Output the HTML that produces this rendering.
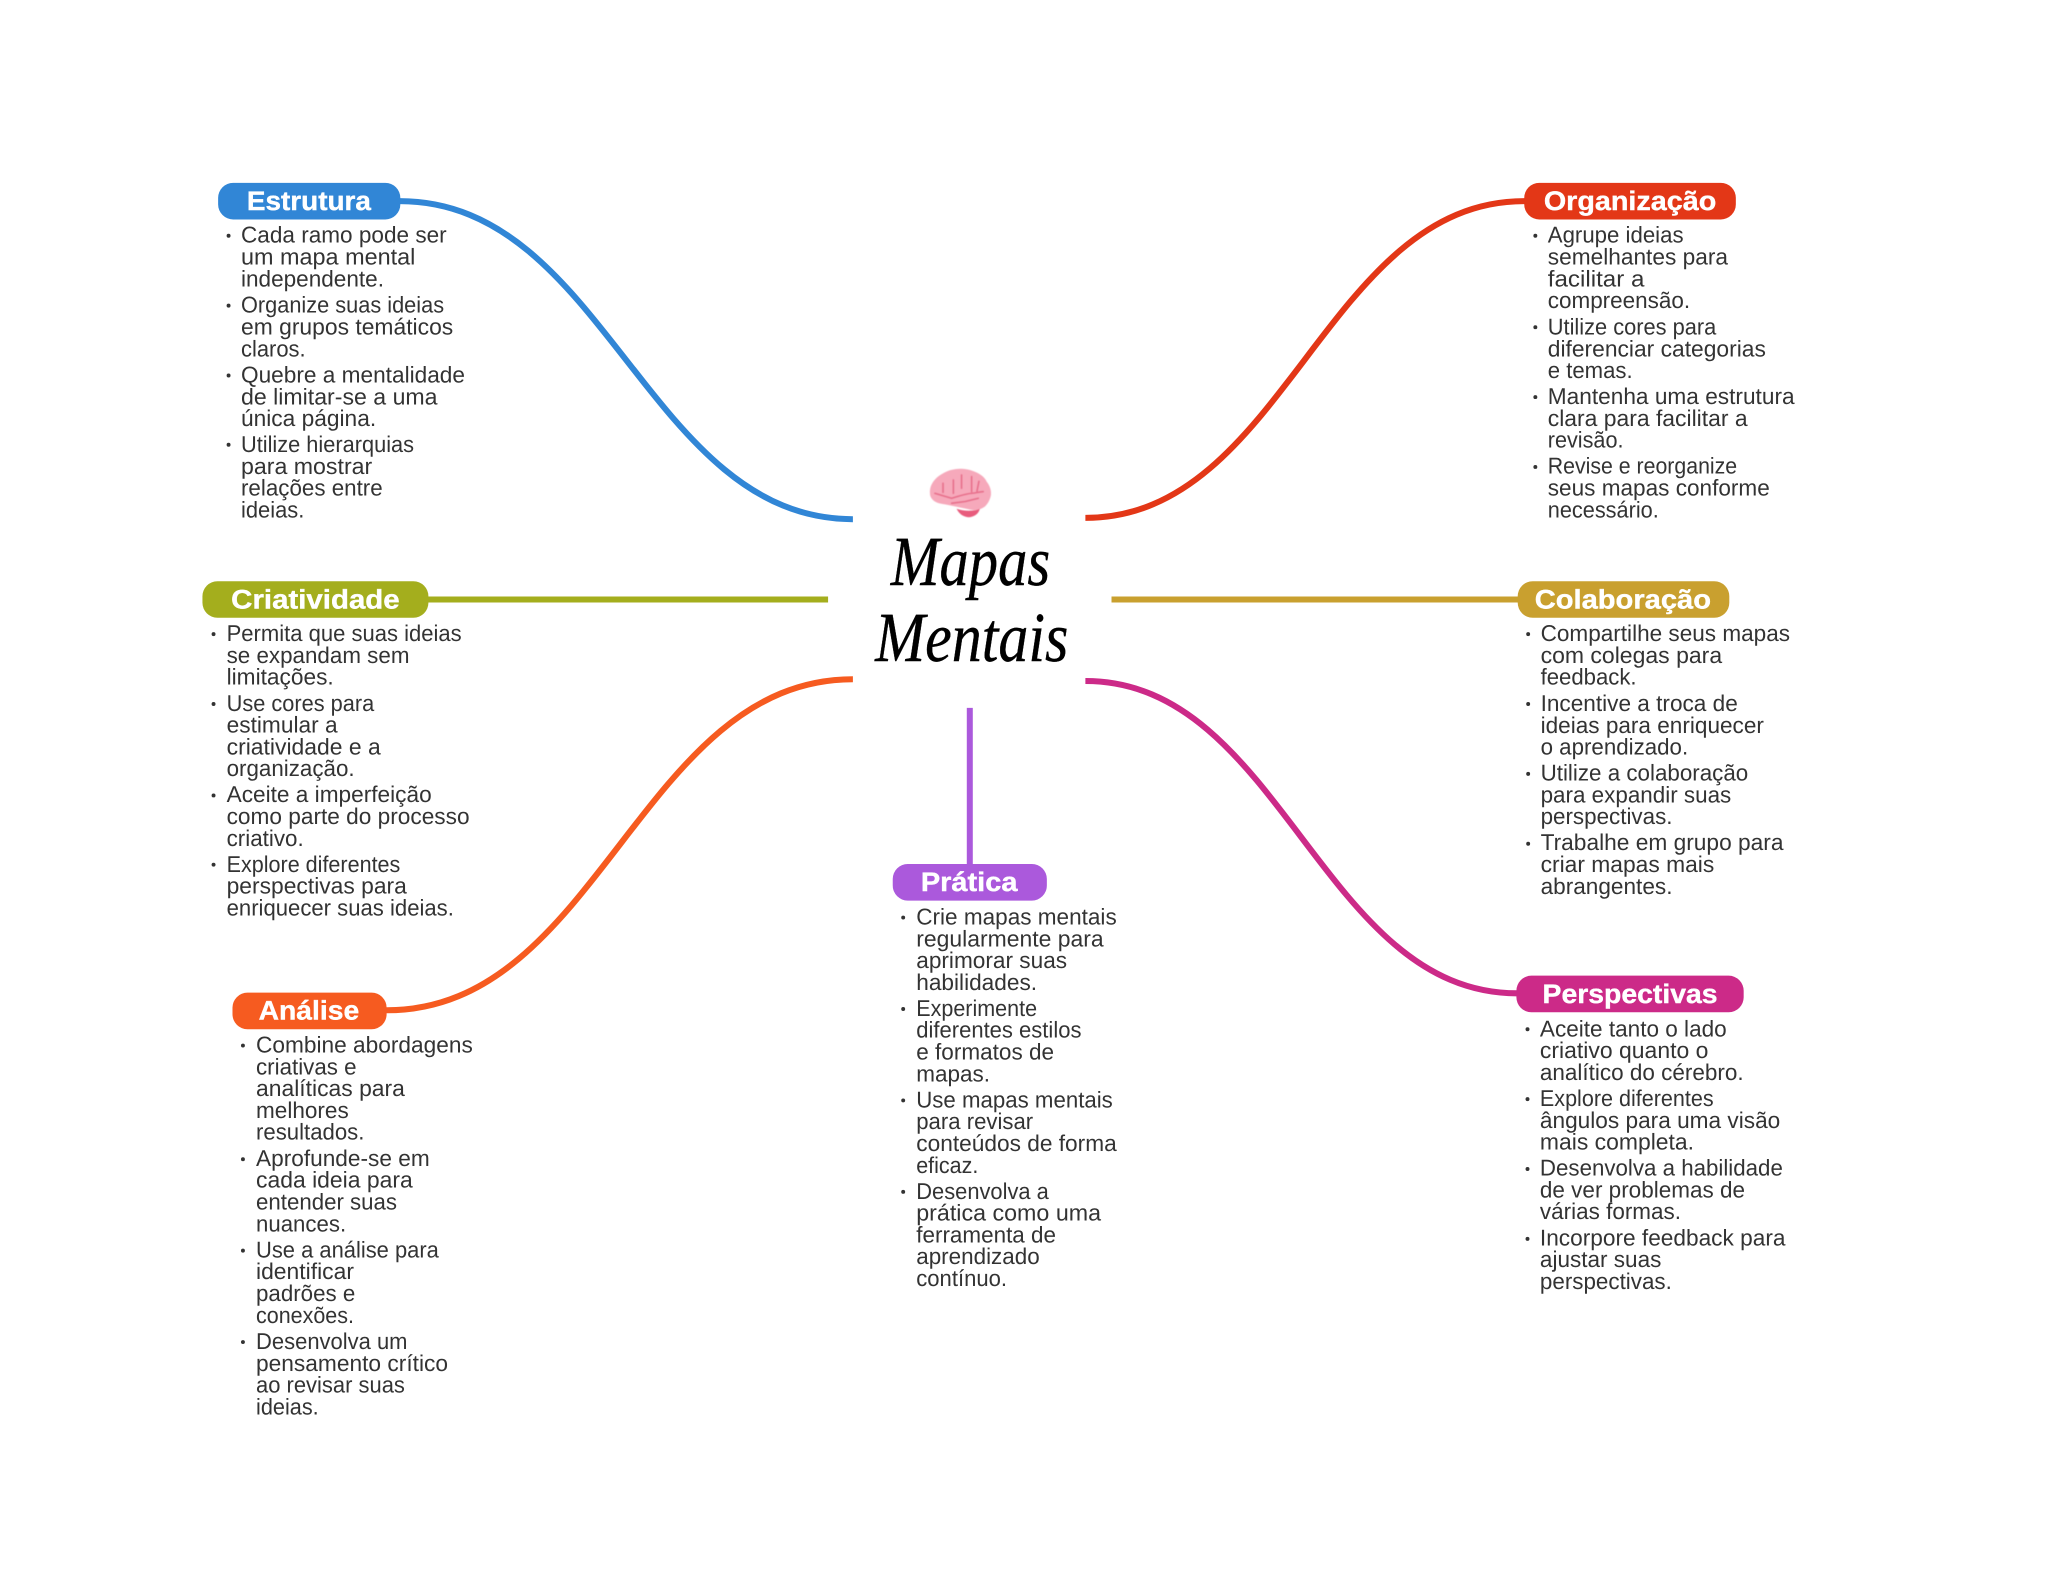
<!DOCTYPE html>
<html lang="pt"><head><meta charset="utf-8"><title>Mapas Mentais</title>
<style>
html,body{margin:0;padding:0;background:#fff;width:2048px;height:1569px;overflow:hidden}
svg{display:block}
.t text{font-family:"Liberation Sans",sans-serif;font-size:17.5px;fill:#333;}
.h text{font-family:"Liberation Sans",sans-serif;font-size:20.5px;font-weight:bold;fill:#fff;stroke:#fff;stroke-width:.3}
.s text{font-family:"Liberation Serif",serif;font-style:italic;font-size:54px;fill:#000;stroke:#000;stroke-width:.3}
path.c{fill:none;stroke-width:4.6}
circle.b{fill:#333}
</style></head><body>
<svg xmlns="http://www.w3.org/2000/svg" width="2048" height="1569" viewBox="0 0 1568 1201.25" text-rendering="geometricPrecision">
<defs><filter id="bl" x="-10%" y="-10%" width="120%" height="120%"><feGaussianBlur stdDeviation=".5"/></filter></defs>
<rect width="1568" height="1202" fill="#fff"/>
<path class="c" stroke="#3186d6" d="M296,154H306C463,154 496,397.500 653,397.500"/>
<path class="c" stroke="#e33717" d="M831,396.500C983,396.500 1015,154 1167,154H1175"/>
<path class="c" stroke="#a4ae1d" d="M320,459H634"/>
<path class="c" stroke="#c9a02f" d="M851,459H1170"/>
<path class="c" stroke="#f65b20" d="M286,773.500H296C458,773.500 491,520 653,520"/>
<path class="c" stroke="#cc2a88" d="M831,521.400C980.500,521.400 1012,760.500 1161.500,760.500H1170"/>
<path class="c" stroke="#ab59dc" d="M742.500,542V670"/>

<rect x="167" y="140" width="139.500" height="28" rx="11.500" fill="#3186d6"/>
<rect x="1167" y="140" width="162" height="28" rx="11.500" fill="#e33717"/>
<rect x="155" y="445" width="173" height="28" rx="11.500" fill="#a4ae1d"/>
<rect x="1162" y="445" width="162" height="28" rx="11.500" fill="#c9a02f"/>
<rect x="178" y="760" width="118" height="28" rx="11.500" fill="#f65b20"/>
<rect x="683.500" y="661.500" width="118" height="28" rx="11.500" fill="#ab59dc"/>
<rect x="1161" y="747" width="174" height="28" rx="11.500" fill="#cc2a88"/>

<g class="h">
<text x="189" y="160.800" textLength="95" lengthAdjust="spacingAndGlyphs">Estrutura</text>
<text x="1182" y="160.800" textLength="132" lengthAdjust="spacingAndGlyphs">Organização</text>
<text x="177" y="465.800" textLength="129" lengthAdjust="spacingAndGlyphs">Criatividade</text>
<text x="1175" y="465.800" textLength="135" lengthAdjust="spacingAndGlyphs">Colaboração</text>
<text x="198" y="780.500" textLength="77" lengthAdjust="spacingAndGlyphs">Análise</text>
<text x="705" y="682.300" textLength="74" lengthAdjust="spacingAndGlyphs">Prática</text>
<text x="1181" y="768" textLength="134" lengthAdjust="spacingAndGlyphs">Perspectivas</text>
</g>

<g class="t">
<text x="184.500" y="185.800" textLength="157.500" lengthAdjust="spacingAndGlyphs">Cada ramo pode ser</text>
<text x="184.500" y="202.500" textLength="133.500" lengthAdjust="spacingAndGlyphs">um mapa mental</text>
<text x="184.500" y="219.200" textLength="109.500" lengthAdjust="spacingAndGlyphs">independente.</text>
<text x="184.500" y="239.400" textLength="155.500" lengthAdjust="spacingAndGlyphs">Organize suas ideias</text>
<text x="184.500" y="256.100" textLength="162.500" lengthAdjust="spacingAndGlyphs">em grupos temáticos</text>
<text x="184.500" y="272.800" textLength="49.500" lengthAdjust="spacingAndGlyphs">claros.</text>
<text x="184.500" y="292.800" textLength="171.500" lengthAdjust="spacingAndGlyphs">Quebre a mentalidade</text>
<text x="184.500" y="309.500" textLength="150.500" lengthAdjust="spacingAndGlyphs">de limitar-se a uma</text>
<text x="184.500" y="326.200" textLength="103.500" lengthAdjust="spacingAndGlyphs">única página.</text>
<text x="184.500" y="346.100" textLength="132.500" lengthAdjust="spacingAndGlyphs">Utilize hierarquias</text>
<text x="184.500" y="362.800" textLength="100.500" lengthAdjust="spacingAndGlyphs">para mostrar</text>
<text x="184.500" y="379.500" textLength="108.500" lengthAdjust="spacingAndGlyphs">relações entre</text>
<text x="184.500" y="396.200" textLength="48.500" lengthAdjust="spacingAndGlyphs">ideias.</text>

<text x="1185" y="185.800" textLength="104" lengthAdjust="spacingAndGlyphs">Agrupe ideias</text>
<text x="1185" y="202.500" textLength="138" lengthAdjust="spacingAndGlyphs">semelhantes para</text>
<text x="1185" y="219.200" textLength="74" lengthAdjust="spacingAndGlyphs">facilitar a</text>
<text x="1185" y="235.900" textLength="109" lengthAdjust="spacingAndGlyphs">compreensão.</text>
<text x="1185" y="256.100" textLength="129" lengthAdjust="spacingAndGlyphs">Utilize cores para</text>
<text x="1185" y="272.800" textLength="167" lengthAdjust="spacingAndGlyphs">diferenciar categorias</text>
<text x="1185" y="289.500" textLength="65" lengthAdjust="spacingAndGlyphs">e temas.</text>
<text x="1185" y="309.400" textLength="189" lengthAdjust="spacingAndGlyphs">Mantenha uma estrutura</text>
<text x="1185" y="326.100" textLength="153" lengthAdjust="spacingAndGlyphs">clara para facilitar a</text>
<text x="1185" y="342.800" textLength="58" lengthAdjust="spacingAndGlyphs">revisão.</text>
<text x="1185" y="362.700" textLength="145" lengthAdjust="spacingAndGlyphs">Revise e reorganize</text>
<text x="1185" y="379.400" textLength="170" lengthAdjust="spacingAndGlyphs">seus mapas conforme</text>
<text x="1185" y="396.100" textLength="85" lengthAdjust="spacingAndGlyphs">necessário.</text>

<text x="173.500" y="490.800" textLength="180" lengthAdjust="spacingAndGlyphs">Permita que suas ideias</text>
<text x="173.500" y="507.500" textLength="140" lengthAdjust="spacingAndGlyphs">se expandam sem</text>
<text x="173.500" y="524.200" textLength="82" lengthAdjust="spacingAndGlyphs">limitações.</text>
<text x="173.500" y="544.200" textLength="113" lengthAdjust="spacingAndGlyphs">Use cores para</text>
<text x="173.500" y="560.900" textLength="85" lengthAdjust="spacingAndGlyphs">estimular a</text>
<text x="173.500" y="577.600" textLength="118" lengthAdjust="spacingAndGlyphs">criatividade e a</text>
<text x="173.500" y="594.300" textLength="98" lengthAdjust="spacingAndGlyphs">organização.</text>
<text x="173.500" y="614.200" textLength="157" lengthAdjust="spacingAndGlyphs">Aceite a imperfeição</text>
<text x="173.500" y="630.900" textLength="186" lengthAdjust="spacingAndGlyphs">como parte do processo</text>
<text x="173.500" y="647.600" textLength="59" lengthAdjust="spacingAndGlyphs">criativo.</text>
<text x="173.500" y="667.500" textLength="133" lengthAdjust="spacingAndGlyphs">Explore diferentes</text>
<text x="173.500" y="684.200" textLength="138" lengthAdjust="spacingAndGlyphs">perspectivas para</text>
<text x="173.500" y="700.900" textLength="174" lengthAdjust="spacingAndGlyphs">enriquecer suas ideias.</text>

<text x="1179.500" y="490.800" textLength="191" lengthAdjust="spacingAndGlyphs">Compartilhe seus mapas</text>
<text x="1179.500" y="507.500" textLength="139" lengthAdjust="spacingAndGlyphs">com colegas para</text>
<text x="1179.500" y="524.200" textLength="73.500" lengthAdjust="spacingAndGlyphs">feedback.</text>
<text x="1179.500" y="544.400" textLength="151" lengthAdjust="spacingAndGlyphs">Incentive a troca de</text>
<text x="1179.500" y="561.100" textLength="171" lengthAdjust="spacingAndGlyphs">ideias para enriquecer</text>
<text x="1179.500" y="577.800" textLength="113" lengthAdjust="spacingAndGlyphs">o aprendizado.</text>
<text x="1179.500" y="597.600" textLength="159" lengthAdjust="spacingAndGlyphs">Utilize a colaboração</text>
<text x="1179.500" y="614.300" textLength="146" lengthAdjust="spacingAndGlyphs">para expandir suas</text>
<text x="1179.500" y="631" textLength="101" lengthAdjust="spacingAndGlyphs">perspectivas.</text>
<text x="1179.500" y="650.900" textLength="186" lengthAdjust="spacingAndGlyphs">Trabalhe em grupo para</text>
<text x="1179.500" y="667.600" textLength="133" lengthAdjust="spacingAndGlyphs">criar mapas mais</text>
<text x="1179.500" y="684.300" textLength="101" lengthAdjust="spacingAndGlyphs">abrangentes.</text>

<text x="196" y="805.800" textLength="166" lengthAdjust="spacingAndGlyphs">Combine abordagens</text>
<text x="196" y="822.500" textLength="77" lengthAdjust="spacingAndGlyphs">criativas e</text>
<text x="196" y="839.200" textLength="114" lengthAdjust="spacingAndGlyphs">analíticas para</text>
<text x="196" y="855.900" textLength="71" lengthAdjust="spacingAndGlyphs">melhores</text>
<text x="196" y="872.600" textLength="83" lengthAdjust="spacingAndGlyphs">resultados.</text>
<text x="196" y="892.600" textLength="133" lengthAdjust="spacingAndGlyphs">Aprofunde-se em</text>
<text x="196" y="909.300" textLength="120" lengthAdjust="spacingAndGlyphs">cada ideia para</text>
<text x="196" y="926" textLength="108" lengthAdjust="spacingAndGlyphs">entender suas</text>
<text x="196" y="942.700" textLength="69" lengthAdjust="spacingAndGlyphs">nuances.</text>
<text x="196" y="962.700" textLength="140" lengthAdjust="spacingAndGlyphs">Use a análise para</text>
<text x="196" y="979.400" textLength="75" lengthAdjust="spacingAndGlyphs">identificar</text>
<text x="196" y="996.100" textLength="76" lengthAdjust="spacingAndGlyphs">padrões e</text>
<text x="196" y="1012.800" textLength="75" lengthAdjust="spacingAndGlyphs">conexões.</text>
<text x="196" y="1032.800" textLength="116" lengthAdjust="spacingAndGlyphs">Desenvolva um</text>
<text x="196" y="1049.500" textLength="147" lengthAdjust="spacingAndGlyphs">pensamento crítico</text>
<text x="196" y="1066.200" textLength="114" lengthAdjust="spacingAndGlyphs">ao revisar suas</text>
<text x="196" y="1082.900" textLength="48" lengthAdjust="spacingAndGlyphs">ideias.</text>

<text x="701.500" y="707.800" textLength="153.500" lengthAdjust="spacingAndGlyphs">Crie mapas mentais</text>
<text x="701.500" y="724.500" textLength="143.500" lengthAdjust="spacingAndGlyphs">regularmente para</text>
<text x="701.500" y="741.200" textLength="115.500" lengthAdjust="spacingAndGlyphs">aprimorar suas</text>
<text x="701.500" y="757.900" textLength="92.500" lengthAdjust="spacingAndGlyphs">habilidades.</text>
<text x="701.500" y="777.800" textLength="92.500" lengthAdjust="spacingAndGlyphs">Experimente</text>
<text x="701.500" y="794.500" textLength="126.500" lengthAdjust="spacingAndGlyphs">diferentes estilos</text>
<text x="701.500" y="811.200" textLength="105.500" lengthAdjust="spacingAndGlyphs">e formatos de</text>
<text x="701.500" y="827.900" textLength="56.500" lengthAdjust="spacingAndGlyphs">mapas.</text>
<text x="701.500" y="847.800" textLength="150.500" lengthAdjust="spacingAndGlyphs">Use mapas mentais</text>
<text x="701.500" y="864.500" textLength="89.500" lengthAdjust="spacingAndGlyphs">para revisar</text>
<text x="701.500" y="881.200" textLength="153.500" lengthAdjust="spacingAndGlyphs">conteúdos de forma</text>
<text x="701.500" y="897.900" textLength="47.500" lengthAdjust="spacingAndGlyphs">eficaz.</text>
<text x="701.500" y="917.800" textLength="101.500" lengthAdjust="spacingAndGlyphs">Desenvolva a</text>
<text x="701.500" y="934.500" textLength="141.500" lengthAdjust="spacingAndGlyphs">prática como uma</text>
<text x="701.500" y="951.200" textLength="107" lengthAdjust="spacingAndGlyphs">ferramenta de</text>
<text x="701.500" y="967.900" textLength="94.500" lengthAdjust="spacingAndGlyphs">aprendizado</text>
<text x="701.500" y="984.600" textLength="69.500" lengthAdjust="spacingAndGlyphs">contínuo.</text>

<text x="1179" y="793.500" textLength="143" lengthAdjust="spacingAndGlyphs">Aceite tanto o lado</text>
<text x="1179" y="810.200" textLength="129" lengthAdjust="spacingAndGlyphs">criativo quanto o</text>
<text x="1179" y="826.900" textLength="156" lengthAdjust="spacingAndGlyphs">analítico do cérebro.</text>
<text x="1179" y="846.800" textLength="133" lengthAdjust="spacingAndGlyphs">Explore diferentes</text>
<text x="1179" y="863.500" textLength="184" lengthAdjust="spacingAndGlyphs">ângulos para uma visão</text>
<text x="1179" y="880.200" textLength="118" lengthAdjust="spacingAndGlyphs">mais completa.</text>
<text x="1179" y="900" textLength="186" lengthAdjust="spacingAndGlyphs">Desenvolva a habilidade</text>
<text x="1179" y="916.700" textLength="157" lengthAdjust="spacingAndGlyphs">de ver problemas de</text>
<text x="1179" y="933.400" textLength="108" lengthAdjust="spacingAndGlyphs">várias formas.</text>
<text x="1179" y="953.400" textLength="188" lengthAdjust="spacingAndGlyphs">Incorpore feedback para</text>
<text x="1179" y="970.100" textLength="93" lengthAdjust="spacingAndGlyphs">ajustar suas</text>
<text x="1179" y="986.800" textLength="101" lengthAdjust="spacingAndGlyphs">perspectivas.</text>
</g>

<g>
<circle class="b" cx="175" cy="180.500" r="1.500"/><circle class="b" cx="175" cy="234" r="1.500"/><circle class="b" cx="175" cy="287.500" r="1.500"/><circle class="b" cx="175" cy="340.500" r="1.500"/>
<circle class="b" cx="1175.500" cy="180.500" r="1.500"/><circle class="b" cx="1175.500" cy="250.500" r="1.500"/><circle class="b" cx="1175.500" cy="304" r="1.500"/><circle class="b" cx="1175.500" cy="357.500" r="1.500"/>
<circle class="b" cx="163.500" cy="485.500" r="1.500"/><circle class="b" cx="163.500" cy="539" r="1.500"/><circle class="b" cx="163.500" cy="609" r="1.500"/><circle class="b" cx="163.500" cy="662" r="1.500"/>
<circle class="b" cx="1170" cy="485.500" r="1.500"/><circle class="b" cx="1170" cy="539" r="1.500"/><circle class="b" cx="1170" cy="592.500" r="1.500"/><circle class="b" cx="1170" cy="646" r="1.500"/>
<circle class="b" cx="186" cy="800.500" r="1.500"/><circle class="b" cx="186" cy="887.500" r="1.500"/><circle class="b" cx="186" cy="957.500" r="1.500"/><circle class="b" cx="186" cy="1027.500" r="1.500"/>
<circle class="b" cx="691.500" cy="702.500" r="1.500"/><circle class="b" cx="691.500" cy="772.500" r="1.500"/><circle class="b" cx="691.500" cy="842.500" r="1.500"/><circle class="b" cx="691.500" cy="912.500" r="1.500"/>
<circle class="b" cx="1169.500" cy="788" r="1.500"/><circle class="b" cx="1169.500" cy="841.500" r="1.500"/><circle class="b" cx="1169.500" cy="895" r="1.500"/><circle class="b" cx="1169.500" cy="948.500" r="1.500"/>
</g>

<g filter="url(#bl)">
<path d="M712,377.700C711.500,371 716,364 727.300,360C733,358.500 738,358.500 742.600,359.800C749,361.500 754,365 755.400,368.700C758,372 759,375.500 758.700,378.900C758,383 756,386 754,387.900C751,390 747,391 743.900,390.400L726,386.600C722,386 718,385.500 715.800,384C713,382 712,380 712,377.700Z" fill="#f6a9bb"/>
<path d="M732.400,389.500C738,391.500 746,391.500 750.200,389.500C749.500,393 746,396 741.300,396C737,395.500 734,393 732.400,389.500Z" fill="#e85c7d"/>
<path d="M715.800,377.700L728.600,381.500C734,380 739,378 743.900,377.700C747,377.500 750,376.500 752.800,376.400M729.900,367.500V377.700M736.200,363.600V373.800M743.900,364.900V376.400M722,370V377M749.500,368.500L748,376M728.600,385.300L738.800,384L749,381.500" fill="none" stroke="#e8708c" stroke-width="1.300" stroke-linecap="round" stroke-linejoin="round"/>
</g>

<g class="s">
<text x="682" y="448" textLength="122" lengthAdjust="spacingAndGlyphs">Mapas</text>
<text x="670" y="506" textLength="148" lengthAdjust="spacingAndGlyphs">Mentais</text>
</g>
</svg>
</body></html>
